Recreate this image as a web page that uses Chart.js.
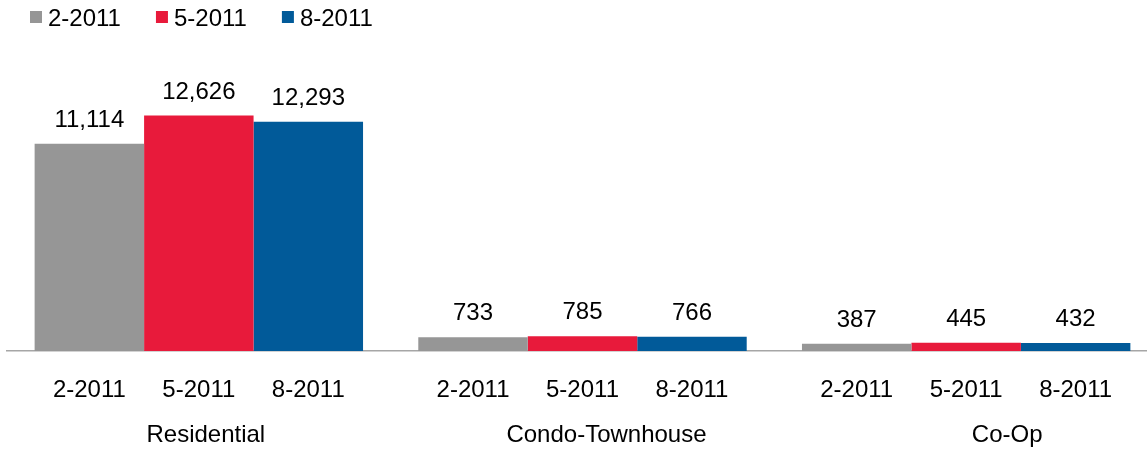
<!DOCTYPE html>
<html>
<head>
<meta charset="utf-8">
<script src="https://cdn.jsdelivr.net/npm/chart.js@4"></script>
<style>
  html, body { margin: 0; padding: 0; background: #fff; overflow: hidden; }
  #wrap { width: 1158px; height: 449px; }
</style>
</head>
<body>
<div id="wrap"><canvas id="myChart"></canvas></div>
<script>
const groups = ["Residential", "Condo-Townhouse", "Co-Op"];
const seriesNames = ["2-2011", "5-2011", "8-2011"];
const feb2011 = [11114, 733, 387];
const may2011 = [12626, 785, 445];
const aug2011 = [12293, 766, 432];
const colors = ["#969696", "#e81a3b", "#015a99"];

const FONT = "24px 'Liberation Sans', Arial, Helvetica, sans-serif";

// value labels, per-bar period labels, group labels and the legend
const labelsPlugin = {
  id: 'labels',
  afterDatasetsDraw(chart) {
    const c = chart.ctx;
    c.save();
    c.font = FONT;
    c.fillStyle = '#000';
    c.textAlign = 'center';
    c.textBaseline = 'alphabetic';
    chart.data.datasets.forEach((ds, i) => {
      chart.getDatasetMeta(i).data.forEach((bar, j) => {
        c.fillText(ds.data[j].toLocaleString('en-US'), bar.x, bar.y - 17);
        c.fillText(ds.label, bar.x, 397);
      });
    });
    // group labels sit on a slightly wider spacing than the bars
    const xs = chart.scales.x;
    groups.forEach((g, j) => {
      c.fillText(g, xs.getPixelForValue(j) + 7 + j * 17, 442);
    });

    // legend
    c.textAlign = 'left';
    let x = 30;
    seriesNames.forEach((name, i) => {
      c.fillStyle = colors[i];
      c.fillRect(x, 11, 12, 12);
      c.fillStyle = '#000';
      c.fillText(name, x + 18, 26);
      x += 18 + c.measureText(name).width + 35;
    });
    c.restore();
  }
};

const data = {
  labels: groups,
  datasets: [
    { label: seriesNames[0], data: feb2011, backgroundColor: colors[0] },
    { label: seriesNames[1], data: may2011, backgroundColor: colors[1] },
    { label: seriesNames[2], data: aug2011, backgroundColor: colors[2] }
  ]
};

const config = {
  type: 'bar',
  data: data,
  options: {
    responsive: true,
    maintainAspectRatio: false,
    animation: false,
    layout: { padding: { top: 90, bottom: 98, left: 7, right: 0 } },
    datasets: {
      bar: { categoryPercentage: 0.856, barPercentage: 1, borderWidth: 0 }
    },
    plugins: {
      legend: { display: false },
      tooltip: { enabled: false }
    },
    scales: {
      x: {
        ticks: { display: false },
        grid: { display: false, drawTicks: false },
        border: { display: true, color: '#a6a6a6', width: 1.5 }
      },
      y: {
        display: false,
        min: 0,
        max: 14000
      }
    }
  },
  plugins: [labelsPlugin]
};

const chart = new Chart(document.querySelector('#myChart').getContext('2d'), config);
</script>
</body>
</html>
